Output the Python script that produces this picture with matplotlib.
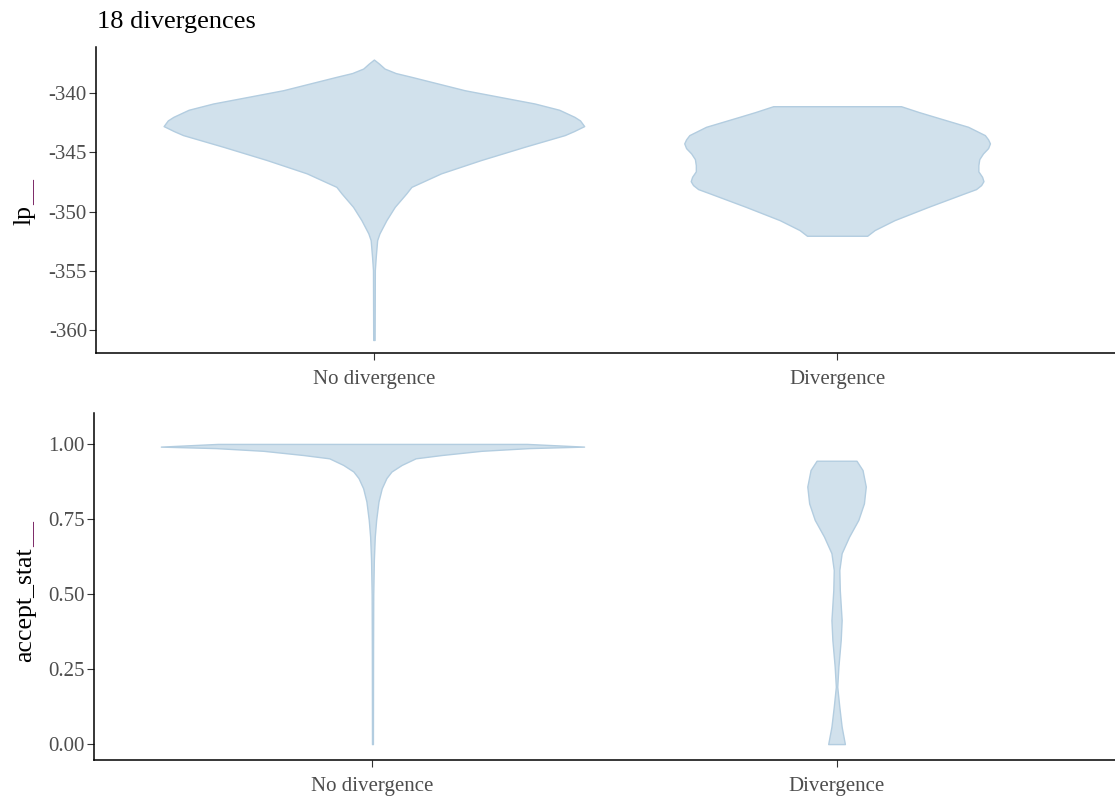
import matplotlib
matplotlib.use("Agg")
import matplotlib.pyplot as plt
import numpy as np

plt.rcParams['font.family'] = ['Liberation Serif', 'DejaVu Serif']

# categories and layout labels
groups = ["No divergence", "Divergence"]
title_text = "18 divergences"

# lp__ violins: value along y, half-width (x data units)
lp_nodiv_y = [-337.16, -337.5, -337.92, -338.3, -338.62, -339.2, -339.75, -340.3, -340.87,
              -341.4, -342.0, -342.3, -342.78, -343.2, -343.54, -344.53, -345.65, -346.77,
              -347.91, -348.46, -349.60, -350.72, -351.84, -352.41, -353.81, -354.94,
              -360.84]
lp_nodiv_w = [0.0, 0.011, 0.023, 0.047, 0.081, 0.140, 0.196, 0.270, 0.347,
              0.400, 0.433, 0.445, 0.454, 0.432, 0.412, 0.325, 0.231, 0.145,
              0.081, 0.070, 0.045, 0.027, 0.012, 0.007, 0.004, 0.002,
              0.0015]
lp_div_y = [-341.10, -341.6, -342.0, -342.84, -343.54, -343.9, -344.24, -344.64,
            -345.09, -345.57, -346.08, -346.6, -347.06, -347.43, -347.76, -348.1,
            -348.46, -349.60, -350.72, -351.56, -352.04]
lp_div_w = [0.138, 0.177, 0.211, 0.283, 0.319, 0.326, 0.330, 0.326,
            0.315, 0.307, 0.305, 0.305, 0.313, 0.316, 0.311, 0.300,
            0.275, 0.197, 0.124, 0.081, 0.065]

# accept_stat__ violins
acc_nodiv_y = [1.0, 0.991, 0.986, 0.977, 0.963, 0.952, 0.93, 0.908, 0.886, 0.852,
               0.808, 0.747, 0.691, 0.613, 0.497, 0.313, 0.0]
acc_nodiv_w = [0.333, 0.456, 0.337, 0.235, 0.149, 0.093, 0.063, 0.041, 0.030, 0.020,
               0.013, 0.008, 0.005, 0.003, 0.0017, 0.0013, 0.001]
acc_div_y = [0.944, 0.913, 0.858, 0.802, 0.747, 0.691, 0.636, 0.58, 0.513, 0.413,
             0.347, 0.258, 0.191, 0.124, 0.058, 0.0]
acc_div_w = [0.043, 0.056, 0.063, 0.059, 0.047, 0.027, 0.011, 0.006, 0.007, 0.011,
             0.009, 0.004, 0.0015, 0.006, 0.011, 0.018]

lp_ticks = [-340, -345, -350, -355, -360]
acc_ticks = [0.0, 0.25, 0.5, 0.75, 1.0]

FILL = "#d1e1ec"
EDGE = "#b3cde0"
UNDERSCORE = "#7d2a68"


def violin(ax, pos, y, w):
    y = np.asarray(y)
    w = np.asarray(w)
    ax.fill_betweenx(y, pos - w, pos + w, facecolor=FILL, edgecolor=EDGE,
                     linewidth=1.0, joinstyle="round")


def style_axis(ax):
    for side in ("top", "right"):
        ax.spines[side].set_visible(False)
    for side in ("left", "bottom"):
        ax.spines[side].set_color("black")
        ax.spines[side].set_linewidth(1.1)
    ax.tick_params(axis="both", colors="#333333", length=5, width=0.8,
                   labelcolor="#4d4d4d", labelsize=15)
    ax.tick_params(axis="y", pad=1.5)
    ax.tick_params(axis="x", pad=7)
    ax.set_xticks([1, 2])
    ax.set_xticklabels(groups)
    ax.set_xlim(0.4, 2.6)


fig = plt.figure(figsize=(11.15, 7.96), dpi=100)
W, H = 1115, 796

ax1 = fig.add_axes([96 / W, 1 - 353 / H, 1 - 96 / W, (353 - 47) / H])
ax2 = fig.add_axes([94 / W, 1 - 760 / H, 1 - 94 / W, (760 - 413) / H])

violin(ax1, 1, lp_nodiv_y, lp_nodiv_w)
violin(ax1, 2, lp_div_y, lp_div_w)
style_axis(ax1)
ax1.set_ylim(-361.94, -336.1)
ax1.set_yticks(lp_ticks)
ax1.set_yticklabels([str(t) for t in lp_ticks])

violin(ax2, 1, acc_nodiv_y, acc_nodiv_w)
violin(ax2, 2, acc_div_y, acc_div_w)
style_axis(ax2)
ax2.set_ylim(-0.053, 1.103)
ax2.set_yticks(acc_ticks)
ax2.set_yticklabels([f"{t:.2f}" for t in acc_ticks])

fig.text(97 / W, 1 - 28 / H, title_text, fontsize=19, color="black", va="baseline", ha="left")

# y labels: black name part, trailing "__" drawn in purple
lab1 = fig.text(25 / W, 1 - 205 / H, "lp", rotation=90, ha="center", va="top",
                fontsize=18.5, color="black")
ax1.annotate("__", xy=(0.5, 1), xycoords=lab1, rotation=90, ha="center", va="bottom",
             fontsize=18.5, color=UNDERSCORE, annotation_clip=False)

lab2 = fig.text(25 / W, 1 - 547 / H, "accept_stat", rotation=90, ha="center", va="top",
                fontsize=18.5, color="black")
ax2.annotate("__", xy=(0.5, 1), xycoords=lab2, rotation=90, ha="center", va="bottom",
             fontsize=18.5, color=UNDERSCORE, annotation_clip=False)

fig.savefig("out.png", dpi=100)
